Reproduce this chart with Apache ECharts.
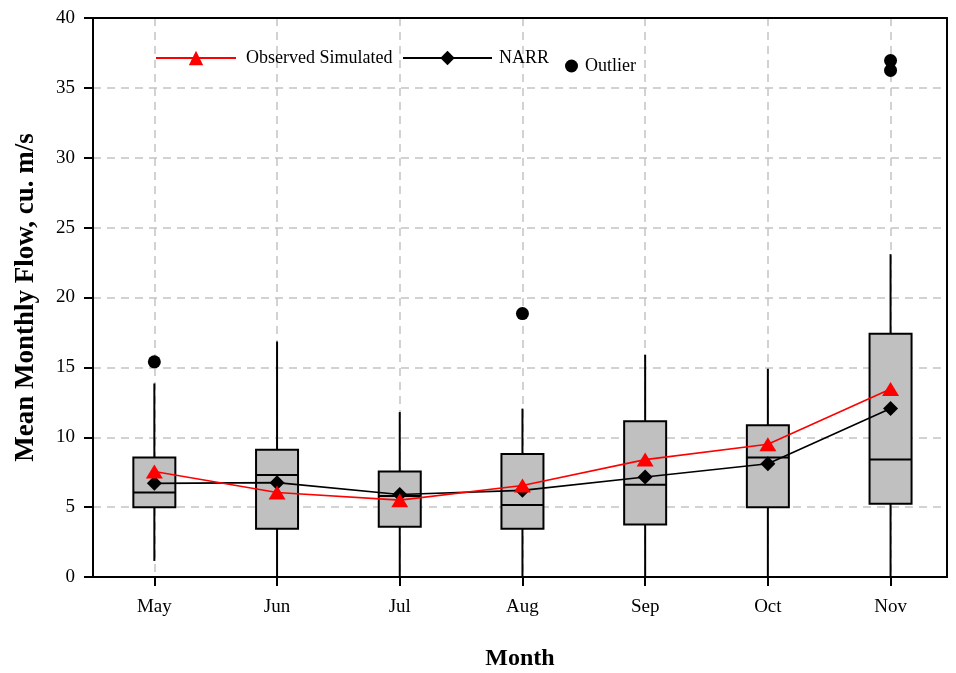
<!DOCTYPE html>
<html>
<head>
<meta charset="utf-8">
<title>Mean Monthly Flow</title>
<script src="https://cdn.jsdelivr.net/npm/echarts@6/dist/echarts.min.js"></script>
<style>
  html, body { margin: 0; padding: 0; background: #fff; }
  #chart { width: 956px; height: 673px; }
</style>
</head>
<body>
<div id="chart"></div>
<script>
// Month categories (x positions 1..7 on the value axis)
const months = ['May', 'Jun', 'Jul', 'Aug', 'Sep', 'Oct', 'Nov'];

// Box-and-whisker statistics per month (cu. m/s)
const whiskerLow  = [1.15, 0, 0, 0, 0, 0, 0];
const quartile1   = [5.0, 3.45, 3.6, 3.45, 3.75, 5.0, 5.25];
const medians     = [6.05, 7.3, 5.8, 5.15, 6.6, 8.55, 8.4];
const quartile3   = [8.55, 9.1, 7.55, 8.8, 11.15, 10.85, 17.4];
const whiskerHigh = [13.85, 16.85, 11.8, 12.05, 15.9, 14.9, 23.1];

// Mean monthly flow lines
const observedSimulated = [7.55, 6.05, 5.5, 6.55, 8.4, 9.5, 13.45];
const narr              = [6.7, 6.75, 5.9, 6.2, 7.15, 8.1, 12.05];

// Outliers: [month number, flow]
const outliers = [[1, 15.4], [4, 18.85], [7, 36.95], [7, 36.25]];

// Y axis ticks
const yMin = 0, yMax = 40, yStep = 5;

const FONT = 'Liberation Serif';
const BOX_WIDTH = 42;

const boxData = months.map((m, i) => [i + 1, whiskerLow[i], quartile1[i], medians[i], quartile3[i], whiskerHigh[i]]);
const toXY = arr => arr.map((v, i) => [i + 1, v]);

const chart = echarts.init(document.getElementById('chart'), null, { renderer: 'canvas' });

const gridLine = { show: true, lineStyle: { color: '#c4c4c4', width: 1.5, type: [8, 6] } };
const frameLine = { show: true, onZero: false, lineStyle: { color: '#000', width: 2 } };
const xMin = 0.5, xMax = 7.46;

chart.setOption({
  animation: false,
  backgroundColor: '#fff',
  grid: { left: 93, right: 9, top: 18, bottom: 96, containLabel: false, outerBoundsMode: 'none' },
  legend: [
    {
      data: ['Observed Simulated'], left: 150, top: 44,
      itemWidth: 80, itemHeight: 18,
      textStyle: { fontFamily: FONT, fontSize: 18, color: '#000', padding: [0, 0, 0, 5] }
    },
    {
      data: ['NARR'], left: 397, top: 44,
      itemWidth: 89, itemHeight: 18,
      textStyle: { fontFamily: FONT, fontSize: 18, color: '#000', padding: [0, 0, 0, 2] }
    },
    {
      data: ['Outlier'], left: 560, top: 52,
      itemWidth: 13, itemHeight: 14,
      textStyle: { fontFamily: FONT, fontSize: 18, color: '#000', padding: [0, 0, 0, 2] }
    }
  ],
  xAxis: [
    {
      type: 'value',
      min: xMin,
      max: xMax,
      name: 'Month',
      nameLocation: 'middle',
      nameGap: 70,
      nameTextStyle: { fontFamily: FONT, fontSize: 24, fontWeight: 'bold', color: '#000' },
      axisLine: frameLine,
      axisTick: { show: true, inside: false, length: 9, lineStyle: { color: '#000', width: 2 }, customValues: [1, 2, 3, 4, 5, 6, 7] },
      axisLabel: {
        margin: 21, fontFamily: FONT, fontSize: 19, color: '#000',
        customValues: [1, 2, 3, 4, 5, 6, 7],
        formatter: v => months[Math.round(v) - 1] || ''
      },
      splitLine: gridLine
    },
    {
      // top frame edge
      type: 'value', position: 'top', min: xMin, max: xMax,
      axisLine: frameLine, axisTick: { show: false }, axisLabel: { show: false }, splitLine: { show: false }
    }
  ],
  yAxis: [
    {
      type: 'value',
      min: yMin, max: yMax, interval: yStep,
      name: 'Mean Monthly Flow, cu. m/s',
      nameLocation: 'middle',
      nameGap: 53,
      nameTextStyle: { fontFamily: FONT, fontSize: 27, fontWeight: 'bold', color: '#000' },
      axisLine: frameLine,
      axisTick: { show: true, inside: false, length: 9, lineStyle: { color: '#000', width: 2 } },
      axisLabel: { margin: 18, fontFamily: FONT, fontSize: 19, color: '#000' },
      splitLine: gridLine
    },
    {
      // right frame edge
      type: 'value', position: 'right', min: yMin, max: yMax, interval: yStep,
      axisLine: frameLine, axisTick: { show: false }, axisLabel: { show: false }, splitLine: { show: false }
    }
  ],
  series: [
    {
      name: 'Flow distribution',
      type: 'custom',
      data: boxData,
      encode: { x: 0, y: [1, 2, 3, 4, 5] },
      z: 2,
      renderItem: function (params, api) {
        const x = api.value(0);
        const lo = api.coord([x, api.value(1)]);
        const q1 = api.coord([x, api.value(2)]);
        const md = api.coord([x, api.value(3)]);
        const q3 = api.coord([x, api.value(4)]);
        const hi = api.coord([x, api.value(5)]);
        const half = BOX_WIDTH / 2;
        const stroke = { stroke: '#000', lineWidth: 2 };
        return {
          type: 'group',
          children: [
            { type: 'line', shape: { x1: lo[0], y1: lo[1], x2: q1[0], y2: q1[1] }, style: stroke },
            { type: 'line', shape: { x1: q3[0], y1: q3[1], x2: hi[0], y2: hi[1] }, style: stroke },
            { type: 'rect', shape: { x: q3[0] - half, y: q3[1], width: BOX_WIDTH, height: q1[1] - q3[1] },
              style: { fill: '#c0c0c0', stroke: '#000', lineWidth: 2 } },
            { type: 'line', shape: { x1: md[0] - half, y1: md[1], x2: md[0] + half, y2: md[1] }, style: stroke }
          ]
        };
      }
    },
    {
      name: 'Outlier',
      type: 'scatter',
      data: outliers,
      symbol: 'circle',
      symbolSize: 13,
      itemStyle: { color: '#000', opacity: 1 },
      z: 3
    },
    {
      name: 'NARR',
      type: 'line',
      data: toXY(narr),
      symbol: 'diamond',
      symbolSize: 15,
      lineStyle: { color: '#000', width: 1.6 },
      itemStyle: { color: '#000' },
      z: 4
    },
    {
      name: 'Observed Simulated',
      type: 'line',
      data: toXY(observedSimulated),
      symbol: 'triangle',
      symbolSize: [17, 14],
      lineStyle: { color: '#ff0000', width: 1.6 },
      itemStyle: { color: '#ff0000' },
      z: 5
    }
  ]
});
</script>
</body>
</html>
